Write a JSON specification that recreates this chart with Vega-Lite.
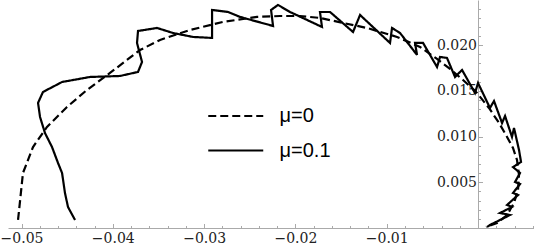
{
  "$schema": "https://vega.github.io/schema/vega-lite/v6.json",
  "width": 526,
  "height": 228,
  "autosize": {"type": "none"},
  "padding": {"left": 8, "top": 0, "right": 0, "bottom": 22},
  "background": "white",
  "config": {"view": {"stroke": null}},
  "data": {"values": [
    {"series": "μ=0", "i": 1, "x": -0.05038, "y": 0.00088},
    {"series": "μ=0", "i": 2, "x": -0.04984, "y": 0.00602},
    {"series": "μ=0", "i": 3, "x": -0.04874, "y": 0.00886},
    {"series": "μ=0", "i": 4, "x": -0.04721, "y": 0.01105},
    {"series": "μ=0", "i": 5, "x": -0.04502, "y": 0.01324},
    {"series": "μ=0", "i": 6, "x": -0.04283, "y": 0.0151},
    {"series": "μ=0", "i": 7, "x": -0.04031, "y": 0.01696},
    {"series": "μ=0", "i": 8, "x": -0.03702, "y": 0.01947},
    {"series": "μ=0", "i": 9, "x": -0.03483, "y": 0.02057},
    {"series": "μ=0", "i": 10, "x": -0.03154, "y": 0.02166},
    {"series": "μ=0", "i": 11, "x": -0.02793, "y": 0.02254},
    {"series": "μ=0", "i": 12, "x": -0.02421, "y": 0.02309},
    {"series": "μ=0", "i": 13, "x": -0.02169, "y": 0.02319},
    {"series": "μ=0", "i": 14, "x": -0.0195, "y": 0.02319},
    {"series": "μ=0", "i": 15, "x": -0.01731, "y": 0.02298},
    {"series": "μ=0", "i": 16, "x": -0.01479, "y": 0.02243},
    {"series": "μ=0", "i": 17, "x": -0.01216, "y": 0.02188},
    {"series": "μ=0", "i": 18, "x": -0.00887, "y": 0.0209},
    {"series": "μ=0", "i": 19, "x": -0.00635, "y": 0.0198},
    {"series": "μ=0", "i": 20, "x": -0.00449, "y": 0.01849},
    {"series": "μ=0", "i": 21, "x": -0.00307, "y": 0.0174},
    {"series": "μ=0", "i": 22, "x": -0.00164, "y": 0.01619},
    {"series": "μ=0", "i": 23, "x": -0.00011, "y": 0.01477},
    {"series": "μ=0", "i": 24, "x": 0.0012, "y": 0.01313},
    {"series": "μ=0", "i": 25, "x": 0.0023, "y": 0.01149},
    {"series": "μ=0", "i": 26, "x": 0.00318, "y": 0.00996},
    {"series": "μ=0", "i": 27, "x": 0.00383, "y": 0.00875},
    {"series": "μ=0", "i": 28, "x": 0.00427, "y": 0.00744},
    {"series": "μ=0", "i": 29, "x": 0.00449, "y": 0.0058},
    {"series": "μ=0", "i": 30, "x": 0.00438, "y": 0.00416},
    {"series": "μ=0", "i": 31, "x": 0.00394, "y": 0.00274},
    {"series": "μ=0", "i": 32, "x": 0.00318, "y": 0.00142},
    {"series": "μ=0", "i": 33, "x": 0.00208, "y": 0.00055},
    {"series": "μ=0", "i": 34, "x": 0.00088, "y": 0.00011},
    {"series": "μ=0.1", "i": 1, "x": -0.04414, "y": 0.00088},
    {"series": "μ=0.1", "i": 2, "x": -0.04491, "y": 0.0023},
    {"series": "μ=0.1", "i": 3, "x": -0.04524, "y": 0.00383},
    {"series": "μ=0.1", "i": 4, "x": -0.04556, "y": 0.00602},
    {"series": "μ=0.1", "i": 5, "x": -0.046, "y": 0.00711},
    {"series": "μ=0.1", "i": 6, "x": -0.04666, "y": 0.00886},
    {"series": "μ=0.1", "i": 7, "x": -0.04743, "y": 0.01039},
    {"series": "μ=0.1", "i": 8, "x": -0.04797, "y": 0.01214},
    {"series": "μ=0.1", "i": 9, "x": -0.04819, "y": 0.01368},
    {"series": "μ=0.1", "i": 10, "x": -0.04765, "y": 0.01488},
    {"series": "μ=0.1", "i": 11, "x": -0.04556, "y": 0.01597},
    {"series": "μ=0.1", "i": 12, "x": -0.0425, "y": 0.01652},
    {"series": "μ=0.1", "i": 13, "x": -0.03921, "y": 0.01663},
    {"series": "μ=0.1", "i": 14, "x": -0.03724, "y": 0.01707},
    {"series": "μ=0.1", "i": 15, "x": -0.0368, "y": 0.01816},
    {"series": "μ=0.1", "i": 16, "x": -0.03735, "y": 0.02024},
    {"series": "μ=0.1", "i": 17, "x": -0.03724, "y": 0.02155},
    {"series": "μ=0.1", "i": 18, "x": -0.03516, "y": 0.02188},
    {"series": "μ=0.1", "i": 19, "x": -0.03341, "y": 0.02133},
    {"series": "μ=0.1", "i": 20, "x": -0.03122, "y": 0.0209},
    {"series": "μ=0.1", "i": 21, "x": -0.02913, "y": 0.02079},
    {"series": "μ=0.1", "i": 22, "x": -0.02913, "y": 0.02385},
    {"series": "μ=0.1", "i": 23, "x": -0.02738, "y": 0.02363},
    {"series": "μ=0.1", "i": 24, "x": -0.02607, "y": 0.02309},
    {"series": "μ=0.1", "i": 25, "x": -0.02245, "y": 0.0221},
    {"series": "μ=0.1", "i": 26, "x": -0.02267, "y": 0.02385},
    {"series": "μ=0.1", "i": 27, "x": -0.02191, "y": 0.0244},
    {"series": "μ=0.1", "i": 28, "x": -0.02059, "y": 0.02363},
    {"series": "μ=0.1", "i": 29, "x": -0.01709, "y": 0.02199},
    {"series": "μ=0.1", "i": 30, "x": -0.01731, "y": 0.02363},
    {"series": "μ=0.1", "i": 31, "x": -0.01621, "y": 0.02363},
    {"series": "μ=0.1", "i": 32, "x": -0.01369, "y": 0.02144},
    {"series": "μ=0.1", "i": 33, "x": -0.01292, "y": 0.0233},
    {"series": "μ=0.1", "i": 34, "x": -0.00964, "y": 0.02024},
    {"series": "μ=0.1", "i": 35, "x": -0.00942, "y": 0.02188},
    {"series": "μ=0.1", "i": 36, "x": -0.00854, "y": 0.02133},
    {"series": "μ=0.1", "i": 37, "x": -0.00668, "y": 0.01893},
    {"series": "μ=0.1", "i": 38, "x": -0.0069, "y": 0.02024},
    {"series": "μ=0.1", "i": 39, "x": -0.00602, "y": 0.02024},
    {"series": "μ=0.1", "i": 40, "x": -0.00449, "y": 0.01761},
    {"series": "μ=0.1", "i": 41, "x": -0.00416, "y": 0.01871},
    {"series": "μ=0.1", "i": 42, "x": -0.0034, "y": 0.0186},
    {"series": "μ=0.1", "i": 43, "x": -0.00252, "y": 0.01652},
    {"series": "μ=0.1", "i": 44, "x": -0.00175, "y": 0.01729},
    {"series": "μ=0.1", "i": 45, "x": -0.00033, "y": 0.01477},
    {"series": "μ=0.1", "i": 46, "x": 0.0, "y": 0.01586},
    {"series": "μ=0.1", "i": 47, "x": 0.00131, "y": 0.01313},
    {"series": "μ=0.1", "i": 48, "x": 0.00175, "y": 0.01389},
    {"series": "μ=0.1", "i": 49, "x": 0.00263, "y": 0.01149},
    {"series": "μ=0.1", "i": 50, "x": 0.00296, "y": 0.01225},
    {"series": "μ=0.1", "i": 51, "x": 0.00372, "y": 0.00996},
    {"series": "μ=0.1", "i": 52, "x": 0.00394, "y": 0.01094},
    {"series": "μ=0.1", "i": 53, "x": 0.00449, "y": 0.00853},
    {"series": "μ=0.1", "i": 54, "x": 0.00471, "y": 0.00722},
    {"series": "μ=0.1", "i": 55, "x": 0.00383, "y": 0.00667},
    {"series": "μ=0.1", "i": 56, "x": 0.0046, "y": 0.00602},
    {"series": "μ=0.1", "i": 57, "x": 0.00405, "y": 0.00503},
    {"series": "μ=0.1", "i": 58, "x": 0.0046, "y": 0.00481},
    {"series": "μ=0.1", "i": 59, "x": 0.00383, "y": 0.00383},
    {"series": "μ=0.1", "i": 60, "x": 0.00438, "y": 0.00361},
    {"series": "μ=0.1", "i": 61, "x": 0.00318, "y": 0.00252},
    {"series": "μ=0.1", "i": 62, "x": 0.00372, "y": 0.0023},
    {"series": "μ=0.1", "i": 63, "x": 0.00241, "y": 0.00164},
    {"series": "μ=0.1", "i": 64, "x": 0.0035, "y": 0.00142},
    {"series": "μ=0.1", "i": 65, "x": 0.00131, "y": 0.00033},
    {"series": "μ=0.1", "i": 66, "x": 0.00099, "y": 0.00011}
  ]},
  "mark": {"type": "line", "strokeWidth": 2.2, "color": "black", "clip": true},
  "encoding": {
    "x": {
      "field": "x", "type": "quantitative",
      "scale": {"domain": [-0.05148, 0.00613], "nice": false, "zero": false},
      "axis": {
        "title": null, "grid": false,
        "values": [-0.05, -0.048, -0.046, -0.044, -0.042, -0.04, -0.038, -0.036, -0.034, -0.032, -0.03, -0.028, -0.026, -0.024, -0.022, -0.02, -0.018, -0.016, -0.014, -0.012, -0.01, -0.008, -0.006, -0.004, -0.002, 0.002, 0.004, 0.006],
        "labelExpr": "abs(datum.value*100 - round(datum.value*100)) < 0.001 ? replace(format(datum.value, '.2f'), '-', '−') : ''",
        "tickSize": {"condition": {"test": "abs(datum.value*100 - round(datum.value*100)) < 0.001", "value": -4.5}, "value": -2.5},
        "domainColor": "#aaaaaa", "tickColor": "#aaaaaa", "tickWidth": 1, "domainWidth": 1,
        "labelFont": "DejaVu Serif", "labelFontSize": 14, "labelColor": "#222222",
        "labelPadding": 8, "labelFlush": false, "labelOverlap": false
      }
    },
    "y": {
      "field": "y", "type": "quantitative",
      "scale": {"domain": [0, 0.02494], "nice": false, "zero": false},
      "axis": {
        "title": null, "grid": false, "orient": "left", "offset": -470,
        "values": [0.001, 0.002, 0.003, 0.004, 0.005, 0.006, 0.007, 0.008, 0.009, 0.01, 0.011, 0.012, 0.013, 0.014, 0.015, 0.016, 0.017, 0.018, 0.019, 0.02, 0.021, 0.022, 0.023, 0.024],
        "labelExpr": "abs(datum.value*200 - round(datum.value*200)) < 0.001 ? format(datum.value, '.3f') : ''",
        "tickSize": {"condition": {"test": "abs(datum.value*200 - round(datum.value*200)) < 0.001", "value": -4.5}, "value": -2.5},
        "domainColor": "#aaaaaa", "tickColor": "#aaaaaa", "tickWidth": 1, "domainWidth": 1,
        "labelFont": "DejaVu Serif", "labelFontSize": 14, "labelColor": "#222222",
        "labelPadding": 6, "labelFlush": false, "labelOverlap": false
      }
    },
    "strokeDash": {
      "field": "series", "type": "nominal",
      "scale": {"domain": ["μ=0", "μ=0.1"], "range": [[8, 4], [1, 0]]},
      "legend": {
        "title": null, "orient": "none", "legendX": 212.75, "legendY": 101,
        "symbolType": "M-2,0H2", "symbolSize": 756, "symbolStrokeWidth": 2.2, "symbolStrokeColor": "black",
        "labelFont": "Liberation Sans", "labelFontSize": 20, "labelColor": "black",
        "labelOffset": 28.75, "rowPadding": 9.5, "padding": 0
      }
    },
    "order": {"field": "i", "type": "quantitative"}
  }
}
